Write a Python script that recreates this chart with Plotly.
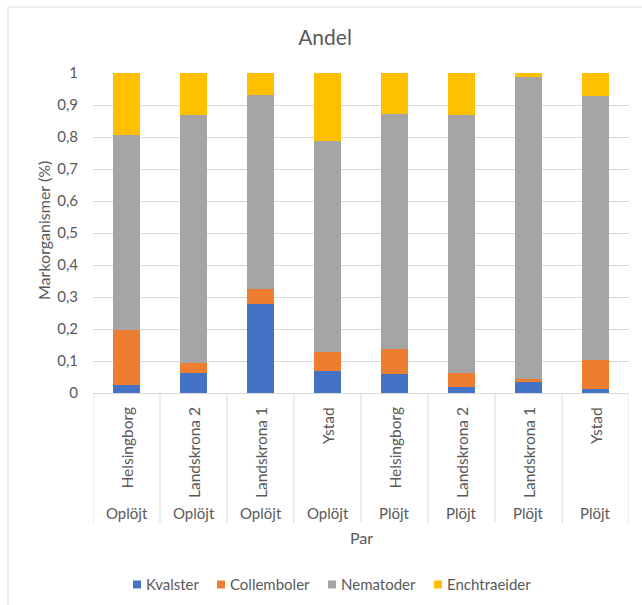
import plotly.graph_objects as go

# Sample pairs: soil treatment (outer level) and site (inner level)
treatments = ["Oplöjt", "Oplöjt", "Oplöjt", "Oplöjt", "Plöjt", "Plöjt", "Plöjt", "Plöjt"]
sites = ["Helsingborg", "Landskrona 2", "Landskrona 1", "Ystad",
         "Helsingborg", "Landskrona 2", "Landskrona 1", "Ystad"]

# Share of each soil organism group per pair
kvalster = [0.026, 0.063, 0.279, 0.068, 0.058, 0.018, 0.035, 0.011]
collemboler = [0.172, 0.031, 0.047, 0.059, 0.079, 0.043, 0.009, 0.091]
nematoder = [0.609, 0.774, 0.606, 0.659, 0.736, 0.807, 0.942, 0.825]
enchtraeider = [0.193, 0.132, 0.068, 0.214, 0.127, 0.132, 0.014, 0.073]

series_names = ["Kvalster", "Collemboler", "Nematoder", "Enchtraeider"]
series_values = [kvalster, collemboler, nematoder, enchtraeider]
series_colors = ["#4472C4", "#ED7D31", "#A5A5A5", "#FFC000"]

y_ticks = [0, 0.1, 0.2, 0.3, 0.4, 0.5, 0.6, 0.7, 0.8, 0.9, 1]
y_tick_text = ["0", "0,1", "0,2", "0,3", "0,4", "0,5", "0,6", "0,7", "0,8", "0,9", "1"]

FONT = "Lato"
TEXT = "#595959"
LINE = "#D9D9D9"

W, H = 642, 605
L, R, T, B = 93, 13, 73, 212
PW, PH = W - L - R, H - T - B


def px_x(px):
    return (px - L) / PW


def px_y(py):
    return (H - B - py) / PH


positions = list(range(len(sites)))

fig = go.Figure()
for name, vals, color in zip(series_names, series_values, series_colors):
    fig.add_trace(go.Bar(
        x=positions, y=vals, name=name, width=0.4,
        marker=dict(color=color, line=dict(width=0)),
    ))

annotations = []
shapes = []

# Two-level category labels below the axis
for i, (site, treat) in enumerate(zip(sites, treatments)):
    annotations.append(dict(
        x=i, y=px_y(405), xref="x", yref="paper", text=site,
        textangle=-90, xanchor="center", yanchor="top", showarrow=False,
        font=dict(family=FONT, size=15.5, color=TEXT),
    ))
    annotations.append(dict(
        x=i, y=px_y(513), xref="x", yref="paper", text=treat,
        xanchor="center", yanchor="middle", showarrow=False,
        font=dict(family=FONT, size=15, color=TEXT),
    ))

# Category dividers
for i in range(len(sites) + 1):
    shapes.append(dict(
        type="line", xref="x", yref="paper", x0=i - 0.5, x1=i - 0.5,
        y0=0, y1=px_y(523), line=dict(color=LINE, width=1),
    ))

# Chart frame
shapes.append(dict(
    type="rect", xref="paper", yref="paper",
    x0=px_x(8), x1=px_x(660), y0=px_y(7), y1=px_y(620),
    line=dict(color=LINE, width=1), layer="below",
))

# Legend: colour keys with their labels
legend_key_x = [133, 217, 328, 434]
for name, color, kx in zip(series_names, series_colors, legend_key_x):
    shapes.append(dict(
        type="rect", xref="paper", yref="paper",
        x0=px_x(kx), x1=px_x(kx + 8), y0=px_y(580.5), y1=px_y(588.5),
        fillcolor=color, line=dict(width=0),
    ))
    annotations.append(dict(
        x=px_x(kx + 11), y=px_y(584), xref="paper", yref="paper",
        text=name, showarrow=False, xanchor="left", yanchor="middle",
        font=dict(family=FONT, size=15, color=TEXT),
    ))

annotations.append(dict(
    x=px_x(361), y=px_y(537), xref="paper", yref="paper", text="Par",
    showarrow=False, xanchor="center", yanchor="middle",
    font=dict(family=FONT, size=16, color=TEXT),
))
annotations.append(dict(
    x=px_x(43), y=px_y(231), xref="paper", yref="paper",
    text="Markorganismer (%)", textangle=-90, showarrow=False,
    xanchor="center", yanchor="middle",
    font=dict(family=FONT, size=16, color=TEXT),
))

fig.update_layout(
    width=W, height=H,
    margin=dict(l=L, r=R, t=T, b=B, autoexpand=False),
    paper_bgcolor="white", plot_bgcolor="white",
    barmode="stack",
    showlegend=False,
    title=dict(text="Andel", x=px_x(325), xref="paper", xanchor="center",
               y=1 - 38 / H, yanchor="middle",
               font=dict(family=FONT, size=21, color=TEXT)),
    font=dict(family=FONT, size=15, color=TEXT),
    xaxis=dict(range=[-0.5, len(sites) - 0.5], showticklabels=False,
               showgrid=False, zeroline=False, showline=True,
               linecolor=LINE, linewidth=1, fixedrange=True),
    yaxis=dict(range=[0, 1], tickvals=y_ticks, ticktext=y_tick_text,
               showgrid=True, gridcolor=LINE, gridwidth=1, zeroline=False,
               showline=False, ticks="", ticklabelstandoff=14,
               tickfont=dict(family=FONT, size=15, color=TEXT)),
    annotations=annotations,
    shapes=shapes,
)

fig.write_html("out.html")
